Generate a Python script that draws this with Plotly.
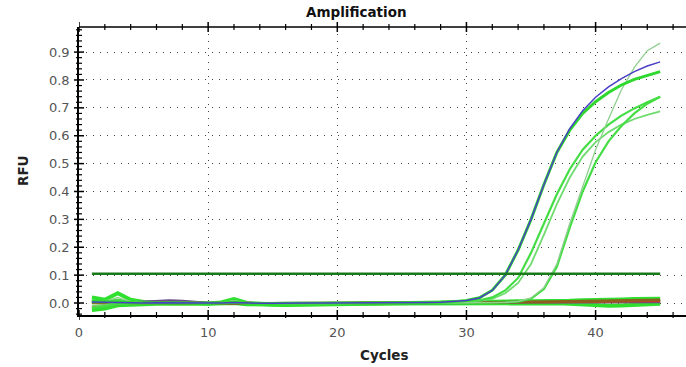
import plotly.graph_objects as go

cycles = list(range(1, 46))

# amplifying samples
amp_blue = [0.004, 0.003, 0.002, 0.0, 0.0, 0.001, 0.001, 0.0, 0.0, -0.001, 0.0, 0.002, 0.0, -0.001, -0.001,
            0.0, 0.0, 0.0, 0.0, 0.0, 0.0, 0.0, 0.001, 0.001, 0.001, 0.001, 0.002, 0.003, 0.005, 0.009,
            0.018, 0.045, 0.10, 0.19, 0.30, 0.425, 0.54, 0.625, 0.69, 0.738, 0.775, 0.805, 0.83, 0.85, 0.865]
amp_g1 = [0.006, 0.004, 0.003, 0.001, 0.0, 0.0, 0.001, 0.0, -0.001, -0.002, 0.0, 0.003, -0.001, -0.002, -0.002,
          -0.001, -0.001, 0.0, 0.0, 0.0, 0.0, 0.0, 0.001, 0.001, 0.001, 0.002, 0.002, 0.003, 0.005, 0.009,
          0.019, 0.046, 0.10, 0.19, 0.30, 0.425, 0.54, 0.62, 0.68, 0.722, 0.755, 0.782, 0.802, 0.817, 0.83]
amp_g2 = [0.008, 0.005, 0.012, 0.003, 0.001, 0.001, 0.001, 0.0, 0.0, -0.001, 0.001, 0.005, 0.0, -0.002, -0.003,
          -0.002, -0.002, -0.001, -0.001, -0.001, 0.0, 0.0, 0.0, 0.001, 0.001, 0.001, 0.002, 0.002, 0.004, 0.006,
          0.010, 0.020, 0.045, 0.09, 0.18, 0.285, 0.39, 0.48, 0.55, 0.60, 0.64, 0.672, 0.698, 0.72, 0.74]
amp_g3 = [-0.01, -0.008, 0.0, 0.0, 0.0, 0.001, 0.001, 0.001, 0.0, -0.001, 0.0, 0.002, -0.001, -0.003, -0.003,
          -0.003, -0.002, -0.002, -0.001, -0.001, -0.001, 0.0, 0.0, 0.0, 0.001, 0.001, 0.001, 0.002, 0.003, 0.005,
          0.008, 0.015, 0.035, 0.072, 0.14, 0.245, 0.355, 0.45, 0.525, 0.577, 0.613, 0.64, 0.66, 0.675, 0.687]
amp_g4 = [0.01, 0.006, 0.02, 0.005, 0.002, 0.001, 0.001, 0.0, 0.0, -0.001, 0.001, 0.008, 0.0, -0.003, -0.004,
          -0.004, -0.003, -0.003, -0.002, -0.002, -0.002, -0.001, -0.001, -0.001, 0.0, 0.0, 0.0, 0.0, 0.001, 0.001,
          0.001, 0.001, 0.002, 0.006, 0.018, 0.055, 0.14, 0.285, 0.415, 0.55, 0.66, 0.765, 0.845, 0.905, 0.932]
amp_g5 = [-0.018, -0.012, -0.004, -0.002, -0.001, 0.0, 0.0, 0.0, 0.0, -0.001, 0.0, 0.001, -0.002, -0.004, -0.004,
          -0.004, -0.003, -0.003, -0.002, -0.002, -0.002, -0.001, -0.001, -0.001, 0.0, 0.0, 0.0, 0.0, 0.0, 0.001,
          0.001, 0.001, 0.002, 0.005, 0.015, 0.05, 0.13, 0.27, 0.40, 0.505, 0.58, 0.635, 0.68, 0.715, 0.74]

# non-amplifying samples
neg_green_hi = [0.02, 0.012, 0.035, 0.012, 0.004, 0.002, 0.002, 0.001, 0.0, -0.002, 0.002, 0.014, 0.0, -0.004, -0.005,
                -0.005, -0.004, -0.004, -0.003, -0.003, -0.002, -0.002, -0.002, -0.001, -0.001, -0.001, 0.0, 0.0, 0.001, 0.002,
                0.003, 0.004, 0.005, 0.006, 0.006, 0.006, 0.007, 0.008, 0.01, 0.012, 0.013, 0.013, 0.014, 0.015, 0.015]
neg_green_lo = [-0.025, -0.02, -0.008, -0.005, -0.004, -0.003, -0.002, -0.002, -0.002, -0.003, -0.002, 0.0, -0.004, -0.006, -0.007,
                -0.007, -0.006, -0.005, -0.004, -0.004, -0.003, -0.003, -0.003, -0.002, -0.002, -0.002, -0.002, -0.001, -0.001, 0.0,
                0.0, 0.0, 0.001, 0.001, 0.001, 0.0, -0.001, -0.003, -0.006, -0.009, -0.01, -0.009, -0.006, -0.004, -0.003]
neg_red = [-0.015, -0.01, -0.004, -0.002, -0.001, 0.0, 0.001, 0.001, 0.001, 0.0, 0.001, 0.002, 0.001, 0.0, 0.0,
           0.0, 0.0, 0.0, 0.0, 0.0, 0.001, 0.001, 0.001, 0.001, 0.002, 0.002, 0.002, 0.002, 0.002, 0.003,
           0.003, 0.003, 0.003, 0.004, 0.004, 0.004, 0.004, 0.005, 0.005, 0.005, 0.005, 0.006, 0.006, 0.006, 0.006]
neg_brown = [0.005, 0.003, 0.002, 0.0, -0.001, 0.0, 0.0, 0.0, -0.001, -0.002, -0.001, 0.0, -0.002, -0.003, -0.003,
             -0.002, -0.002, -0.002, -0.001, -0.001, -0.001, 0.0, 0.0, 0.0, 0.001, 0.001, 0.001, 0.001, 0.002, 0.002,
             0.002, 0.003, 0.003, 0.004, 0.004, 0.005, 0.005, 0.006, 0.007, 0.007, 0.008, 0.009, 0.01, 0.011, 0.012]
neg_purple = [0.002, 0.001, 0.001, 0.002, 0.005, 0.008, 0.009, 0.007, 0.003, 0.0, 0.0, 0.001, 0.0, -0.001, -0.001,
              -0.001, 0.0, 0.0, 0.0, 0.0, 0.0, 0.0, 0.0, 0.0, 0.0, 0.0, 0.001, 0.001, 0.001, 0.001,
              0.001, 0.001, 0.002, 0.002, 0.002, 0.002, 0.002, 0.003, 0.003, 0.003, 0.003, 0.004, 0.004, 0.004, 0.004]
neg_olive = [0.0, -0.002, 0.0, 0.001, 0.0, 0.0, 0.0, 0.0, 0.0, -0.001, 0.0, 0.001, -0.001, -0.002, -0.002,
             -0.002, -0.001, -0.001, -0.001, 0.0, 0.0, 0.0, 0.0, 0.001, 0.001, 0.001, 0.001, 0.002, 0.002, 0.002,
             0.002, 0.003, 0.003, 0.003, 0.003, 0.003, 0.004, 0.004, 0.004, 0.005, 0.005, 0.006, 0.007, 0.008, 0.008]
neg_yellow = [0.003, 0.002, 0.001, 0.0, 0.0, 0.0, 0.0, 0.0, 0.0, -0.001, 0.0, 0.0, -0.001, -0.001, -0.001,
              -0.001, -0.001, 0.0, 0.0, 0.0, 0.0, 0.0, 0.0, 0.0, 0.0, 0.001, 0.001, 0.001, 0.001, 0.001,
              0.001, 0.001, 0.001, 0.002, 0.002, 0.002, 0.002, 0.002, 0.002, 0.002, 0.003, 0.003, 0.003, 0.003, 0.003]

threshold_cycles = [1, 45]
threshold_rfu = [0.105, 0.105]

# axis ticks
x_major = [0, 10, 20, 30, 40]
x_minor = [2, 4, 6, 8, 12, 14, 16, 18, 22, 24, 26, 28, 32, 34, 36, 38, 42, 44, 46]
y_major = [0.0, 0.1, 0.2, 0.3, 0.4, 0.5, 0.6, 0.7, 0.8, 0.9]
y_minor = [round(i * 0.02, 2) for i in range(-2, 50) if i % 5 != 0]

chart_title = "Amplification"
x_title = "Cycles"
y_title = "RFU"

fig = go.Figure()

def add(y, color, width):
    fig.add_trace(go.Scatter(x=cycles, y=y, mode="lines", line=dict(color=color, width=width)))

add(neg_green_lo, "#2fe02f", 4)
add(neg_green_hi, "#2fe02f", 4)
add(neg_yellow, "#e0c030", 1.5)
add(neg_purple, "#6a4a8a", 2.5)
add(neg_olive, "#7a7a20", 2.5)
add(neg_red, "#c83a2a", 2)
add(neg_brown, "#8a6020", 2.5)

add(amp_g3, "#6fdc6f", 1.8)
add(amp_g2, "#44dd44", 2.2)
add(amp_g5, "#44dd44", 2.2)
add(amp_g4, "#8fcf8f", 1.3)
add(amp_g1, "#2ed82e", 3)
add(amp_blue, "#4a3fc4", 1.5)

fig.add_trace(go.Scatter(x=threshold_cycles, y=threshold_rfu, mode="lines",
                         line=dict(color="#1a7a1a", width=2.5)))

tfont = "DejaVu Sans, Verdana, sans-serif"
PW, PH = 607.0, 288.0  # plot-area size in px

# crossing tick marks (the reference draws ticks across the axis lines)
shapes = [dict(type="line", xref="paper", yref="paper", x0=0, x1=1, y0=1, y1=1,
               line=dict(color="black", width=1.5), layer="above")]
for vals, half, w in ((x_major, 5, 1.5), (x_minor, 3, 1.2)):
    for v in vals:
        for base in (0, 1):
            shapes.append(dict(type="line", xref="x", yref="paper", x0=v, x1=v,
                               y0=base - half / PH, y1=base + half / PH,
                               line=dict(color="black", width=w), layer="above"))
for vals, half, w in ((y_major, 5, 1.5), (y_minor, 3, 1.2)):
    for v in vals:
        shapes.append(dict(type="line", xref="paper", yref="y", x0=-half / PW, x1=half / PW,
                           y0=v, y1=v, line=dict(color="black", width=w), layer="above"))

fig.update_layout(
    template="none",
    showlegend=False,
    width=686, height=367,
    margin=dict(l=79, r=0, t=27, b=52, autoexpand=False),
    xaxis=dict(range=[0, 47], tickvals=x_major, ticks="outside", ticklen=5,
               tickcolor="rgba(0,0,0,0)", showline=True, linecolor="black", linewidth=1.5,
               zeroline=False, automargin=False,
               tickfont=dict(family=tfont, size=13, color="#555555"),
               showgrid=True, gridcolor="#444444", gridwidth=1, griddash="1px,6px"),
    yaxis=dict(range=[-0.043, 0.99], tickvals=y_major, tickformat=".1f", ticksuffix="\u2002",
               ticks="outside", ticklen=5, tickcolor="rgba(0,0,0,0)", showline=True,
               linecolor="black", linewidth=1.5, zeroline=False, automargin=False,
               tickfont=dict(family=tfont, size=13, color="#555555"),
               showgrid=True, gridcolor="#444444", gridwidth=1, griddash="1px,6px"),
    shapes=shapes,
    annotations=[
        dict(text="<b>" + chart_title + "</b>", xref="paper", yref="paper",
             x=(356 - 79) / PW, y=1 + 15 / PH, xanchor="center", yanchor="middle",
             showarrow=False, font=dict(family=tfont, size=13.5, color="#111111")),
        dict(text="<b>" + x_title + "</b>", xref="paper", yref="paper",
             x=(384 - 79) / PW, y=-40 / PH, xanchor="center", yanchor="middle",
             showarrow=False, font=dict(family=tfont, size=13.5, color="#222222")),
        dict(text="<b>" + y_title + "</b>", xref="paper", yref="paper",
             x=-56 / PW, y=0.5, xanchor="center", yanchor="middle", textangle=-90,
             showarrow=False, font=dict(family=tfont, size=13.5, color="#222222")),
    ],
)

fig.write_html("out.html", post_script="document.body.style.margin='0px';",
               config={"displayModeBar": False})
